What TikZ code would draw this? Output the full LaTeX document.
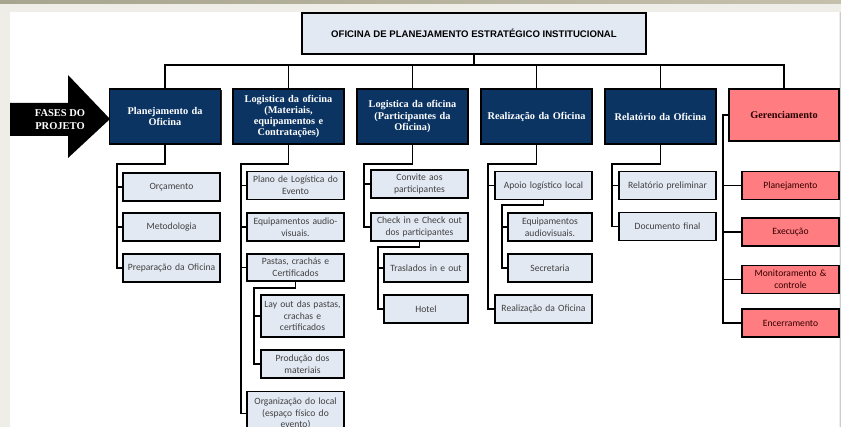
\documentclass[tikz,border=0pt]{standalone}
\usepackage{fontspec}
\setmainfont{Carlito}
\newfontfamily\headfont{Liberation Serif}
\newfontfamily\titlefont{Liberation Sans}
\usetikzlibrary{shadows}

\definecolor{navy}{HTML}{0B3463}
\definecolor{paleblue}{HTML}{E3E9F3}
\definecolor{salmon}{HTML}{FF7C80}
\definecolor{frameband}{HTML}{EEEDE8}
\definecolor{bandleft}{HTML}{A8A58E}
\definecolor{bandright}{HTML}{C4C0AC}

\tikzset{
  box/.style={draw=black, line width=1.5pt, inner sep=1pt, align=center,
    drop shadow={shadow xshift=1pt, shadow yshift=-1pt, fill=black!85, opacity=1}},
  leaf/.style={box, fill=paleblue, text=black!75,
    font=\fontsize{9.6}{11.6}\selectfont, minimum width=97pt, text width=94pt},
  phase/.style={box, fill=navy, text=white,
    font=\headfont\bfseries\fontsize{10.3}{11.2}\selectfont,
    minimum width=111pt, minimum height=55pt, text width=106pt},
  mgmt/.style={box, fill=salmon, text=black!80!red,
    font=\fontsize{9.6}{11.6}\selectfont, minimum width=97pt, text width=94pt},
  link/.style={line width=1.6pt, draw=black},
}

\begin{document}
\begin{tikzpicture}[x=1pt, y=-1pt]
\useasboundingbox (0,0) rectangle (841,427);
\clip (0,0) rectangle (841,427);

% slide frame
\fill[frameband] (0,0) rectangle (841,427);
\shade[left color=bandleft, right color=bandright] (0,0) rectangle (841,4);
\fill[white] (10,12) rectangle (839,427);
\draw[black!20, line width=0.6pt] (840,12) -- (840,427);

% title box
\node[box, fill=paleblue, minimum width=344pt, minimum height=41pt,
      font=\titlefont\bfseries\fontsize{9.6}{11}\selectfont] (top) at (474,33.5)
      {OFICINA DE PLANEJAMENTO ESTRATÉGICO INSTITUCIONAL};

% phase arrow
\fill[black] (10,103) -- (68,103) -- (68,75) -- (110,119) -- (68,158)
  -- (68,136) -- (10,136) -- cycle;
\node[text=white, align=center, font=\headfont\bfseries\fontsize{10.5}{13}\selectfont]
  (fases) at (60,119.5) {FASES DO\\PROJETO};

% phases
\node[phase] (p1) at (165,116.5) {Planejamento da\\Oficina};
\node[phase] (p2) at (288.5,116.5) {Logistica da oficina\\(Materiais,\\equipamentos e\\Contratações)};
\node[phase] (p3) at (412.5,116.5) {Logistica da oficina\\(Participantes da\\Oficina)};
\node[phase] (p4) at (536.5,116.5) {Realização da Oficina};
\node[phase] (p5) at (660.5,116.5) {Relatório da Oficina};
\node[phase, fill=salmon, text=black!85!red, minimum width=110pt, minimum height=52pt]
  (p6) at (784,115) {Gerenciamento};

% top-level bus
\coordinate (bus) at (0,65);
\draw[link] (top.south) -- (top.south |- bus);
\draw[link] (p1.north) -- (p1.north |- bus) -- (p6.north |- bus) -- (p6.north);
\foreach \p in {p2,p3,p4,p5} \draw[link] (\p.north) -- (\p.north |- bus);

% Planejamento da Oficina
\node[leaf, minimum height=28pt] (a1) at (171.5,187) {Orçamento};
\node[leaf, minimum height=28pt] (a2) at (171.5,227) {Metodologia};
\node[leaf, minimum height=28pt] (a3) at (171.5,268) {Preparação da Oficina};
\coordinate (ra) at (117,164);
\draw[link] (p1.south) |- (ra) |- (a3.west);
\foreach \c in {a1,a2} \draw[link] (ra |- \c.west) -- (\c.west);

% Logistica: materiais
\node[leaf, minimum height=28pt] (b1) at (295.5,185.5) {Plano de Logística do\\Evento};
\node[leaf, minimum height=28pt] (b2) at (295.5,227) {Equipamentos audio-\\visuais.};
\node[leaf, minimum height=27pt] (b3) at (295.5,267.5) {Pastas, crachás e\\Certificados};
\node[leaf, minimum width=83pt, text width=81pt, minimum height=42pt] (b4) at (302.5,316)
  {Lay out das pastas,\\crachas e\\certificados};
\node[leaf, minimum width=83pt, text width=81pt, minimum height=28pt] (b5) at (302.5,364)
  {Produção dos\\materiais};
\node[leaf, minimum height=44pt] (b6) at (295.5,413.5)
  {Organização do local\\(espaço físico do\\evento)};
\coordinate (rb) at (241,164);
\draw[link] (p2.south) |- (rb) |- (b6.west);
\foreach \c in {b1,b2,b3} \draw[link] (rb |- \c.west) -- (\c.west);
\coordinate (sb) at (254,288);
\draw[link] (b3.south) |- (sb) |- (b5.west);
\draw[link] (sb |- b4.west) -- (b4.west);

% Logistica: participantes
\node[leaf, minimum height=28pt] (c1) at (419.5,184) {Convite aos\\participantes};
\node[leaf, minimum height=28pt] (c2) at (419.5,227) {Check in e Check out\\dos participantes};
\node[leaf, minimum width=84pt, text width=81pt, minimum height=28pt] (c3) at (426,268) {Traslados in e out};
\node[leaf, minimum width=84pt, text width=81pt, minimum height=28pt] (c4) at (426,309) {Hotel};
\coordinate (rc) at (364,164);
\draw[link] (p3.south) |- (rc) |- (c2.west);
\draw[link] (rc |- c1.west) -- (c1.west);
\coordinate (sc) at (378,247);
\draw[link] (c2.south) |- (sc) |- (c4.west);
\draw[link] (sc |- c3.west) -- (c3.west);

% Realizacao
\node[leaf, minimum height=28pt] (d1) at (543.5,185.5) {Apoio logístico local};
\node[leaf, minimum width=84pt, text width=81pt, minimum height=28pt] (d2) at (550,227)
  {Equipamentos\\audiovisuais.};
\node[leaf, minimum width=84pt, text width=81pt, minimum height=28pt] (d3) at (550,268) {Secretaria};
\node[leaf, minimum height=28pt] (d4) at (543.5,309) {Realização da Oficina};
\coordinate (rd) at (488,164);
\draw[link] (p4.south) |- (rd) |- (d4.west);
\draw[link] (rd |- d1.west) -- (d1.west);
\coordinate (sd) at (502,205);
\draw[link] (d1.south) |- (sd) |- (d3.west);
\draw[link] (sd |- d2.west) -- (d2.west);

% Relatorio
\node[leaf, minimum height=28pt] (e1) at (667.5,185.5) {Relatório preliminar};
\node[leaf, minimum height=28pt] (e2) at (667.5,226.5) {Documento final};
\coordinate (re) at (612,164);
\draw[link] (p5.south) |- (re) |- (e2.west);
\draw[link] (re |- e1.west) -- (e1.west);

% Gerenciamento
\node[mgmt, minimum height=28pt] (g1) at (790.5,185.5) {Planejamento};
\node[mgmt, minimum height=28pt] (g2) at (790.5,232) {Execução};
\node[mgmt, minimum height=28pt] (g3) at (790.5,279.5) {Monitoramento \&\\controle};
\node[mgmt, minimum height=28pt] (g4) at (790.5,323) {Encerramento};
\coordinate (rg) at (723,115);
\draw[link] (p6.west) -- (rg) |- (g4.west);
\foreach \c in {g1,g2,g3} \draw[link] (rg |- \c.west) -- (\c.west);
\end{tikzpicture}
\end{document}
